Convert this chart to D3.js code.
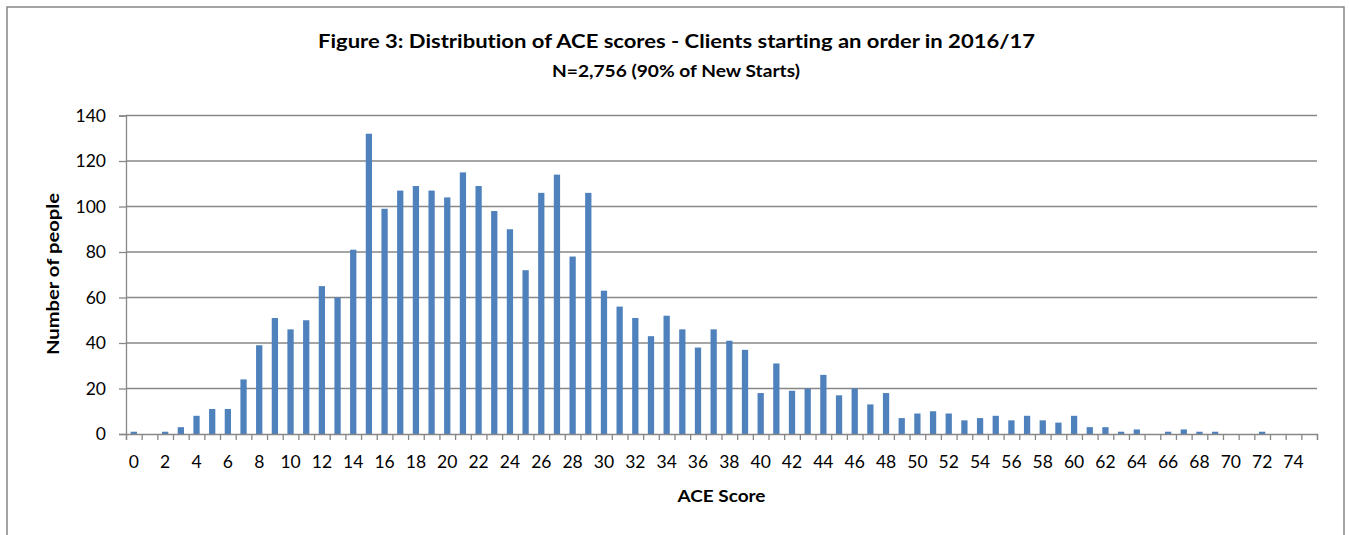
<!DOCTYPE html>
<html>
<head>
<meta charset="utf-8">
<script src="https://cdn.jsdelivr.net/npm/d3@7"></script>
<style>
  body { margin: 0; background: #fff; }
  svg text { font-family: Lato, "Open Sans", sans-serif; fill: #000; font-variant-ligatures: none; }
</style>
</head>
<body>
<div id="chart"></div>
<script>
// ACE score distribution, clients starting an order in 2016/17

var scores = [0,1,2,3,4,5,6,7,8,9,10,11,12,13,14,15,16,17,18,19,20,21,22,23,24,25,26,27,28,29,
  30,31,32,33,34,35,36,37,38,39,40,41,42,43,44,45,46,47,48,49,50,51,52,53,54,55,56,57,58,59,
  60,61,62,63,64,65,66,67,68,69,70,71,72,73,74,75];

var people = [1,0,1,3,8,11,11,24,39,51,46,50,65,60,81,132,99,107,109,107,104,115,109,98,90,72,106,114,78,106,
  63,56,51,43,52,46,38,46,41,37,18,31,19,20,26,17,20,13,18,7,9,10,9,6,7,8,6,8,6,5,
  8,3,3,1,2,0,1,2,1,1,0,0,1,0,0,0];

var xTickLabels = [0,2,4,6,8,10,12,14,16,18,20,22,24,26,28,30,32,34,36,38,40,42,44,46,48,50,52,54,56,58,60,62,64,66,68,70,72,74];
var yTicks = [0,20,40,60,80,100,120,140];

var title = "Figure 3: Distribution of ACE scores - Clients starting an order in 2016/17";
var subtitle = "N=2,756 (90% of New Starts)";

var W = 1349, H = 535;
var plot = {left: 126, right: 1317, top: 115.5, bottom: 434};
var gray = "#878787";

var svg = d3.select("#chart").append("svg")
    .attr("width", W)
    .attr("height", H);

// outer chart frame (bottom edge is off the page)
svg.append("rect")
    .attr("x", 7).attr("y", 7)
    .attr("width", 1337).attr("height", 560)
    .attr("fill", "none")
    .attr("stroke", gray)
    .attr("stroke-width", 1.5);

var x = d3.scaleBand()
    .domain(scores)
    .range([plot.left, plot.right])
    .paddingInner(0.6)
    .paddingOuter(0.3);

// boundaries between categories, for the tick marks
var xEdge = d3.scaleLinear()
    .domain([0, scores.length])
    .range([plot.left, plot.right]);

var y = d3.scaleLinear()
    .domain([0, 140])
    .range([plot.bottom, plot.top]);

// gridlines
svg.append("g")
  .selectAll("line")
    .data(yTicks.filter(function(d) { return d > 0; }))
  .enter().append("line")
    .attr("x1", plot.left)
    .attr("x2", plot.right)
    .attr("y1", function(d) { return y(d); })
    .attr("y2", function(d) { return y(d); })
    .attr("stroke", gray)
    .attr("stroke-width", 1.3);

// bars
svg.append("g")
  .selectAll("rect")
    .data(people)
  .enter().append("rect")
    .attr("x", function(d, i) { return x(scores[i]); })
    .attr("width", x.bandwidth())
    .attr("y", function(d) { return y(d); })
    .attr("height", function(d) { return plot.bottom - y(d); })
    .attr("fill", "#4F81BD");

// y axis
var yAxis = svg.append("g")
    .attr("transform", "translate(" + plot.left + ",0)")
    .call(d3.axisLeft(y).tickValues(yTicks).tickSize(7).tickPadding(13));
yAxis.select(".domain").attr("stroke", gray).attr("stroke-width", 1.3);
yAxis.selectAll(".tick line").attr("stroke", gray).attr("stroke-width", 1.3);
yAxis.selectAll(".tick text")
    .style("font-family", "Lato")
    .style("font-size", "17.5px")
    .attr("fill", "#000");

// x axis: tick marks on category edges
var xTicksAxis = svg.append("g")
    .attr("transform", "translate(0," + plot.bottom + ")")
    .call(d3.axisBottom(xEdge).tickValues(d3.range(0, scores.length + 1))
      .tickSize(6).tickFormat(""));
xTicksAxis.select(".domain").attr("stroke", gray).attr("stroke-width", 1.3);
xTicksAxis.selectAll(".tick line").attr("stroke", gray).attr("stroke-width", 1.3);

// x axis: labels centred on bars
var xLabels = svg.append("g")
    .attr("transform", "translate(0," + plot.bottom + ")")
    .call(d3.axisBottom(x).tickValues(xTickLabels).tickSize(0).tickPadding(22));
xLabels.select(".domain").remove();
xLabels.selectAll(".tick text")
    .style("font-family", "Lato")
    .style("font-size", "17.5px")
    .attr("fill", "#000");

// titles
svg.append("text")
    .attr("x", 676.5).attr("y", 48.3)
    .attr("text-anchor", "middle")
    .attr("textLength", 717)
    .attr("lengthAdjust", "spacingAndGlyphs")
    .style("font-size", "18.6px")
    .style("font-weight", "bold")
    .text(title);

svg.append("text")
    .attr("x", 676).attr("y", 77)
    .attr("text-anchor", "middle")
    .attr("textLength", 248)
    .attr("lengthAdjust", "spacingAndGlyphs")
    .style("font-size", "16.3px")
    .style("font-weight", "bold")
    .text(subtitle);

svg.append("text")
    .attr("x", (plot.left + plot.right) / 2).attr("y", 502)
    .attr("text-anchor", "middle")
    .attr("textLength", 88)
    .attr("lengthAdjust", "spacingAndGlyphs")
    .style("font-size", "16.3px")
    .style("font-weight", "bold")
    .text("ACE Score");

svg.append("text")
    .attr("transform", "translate(59,274) rotate(-90)")
    .attr("text-anchor", "middle")
    .attr("textLength", 162)
    .attr("lengthAdjust", "spacingAndGlyphs")
    .style("font-size", "16.3px")
    .style("font-weight", "bold")
    .text("Number of people");
</script>
</body>
</html>
